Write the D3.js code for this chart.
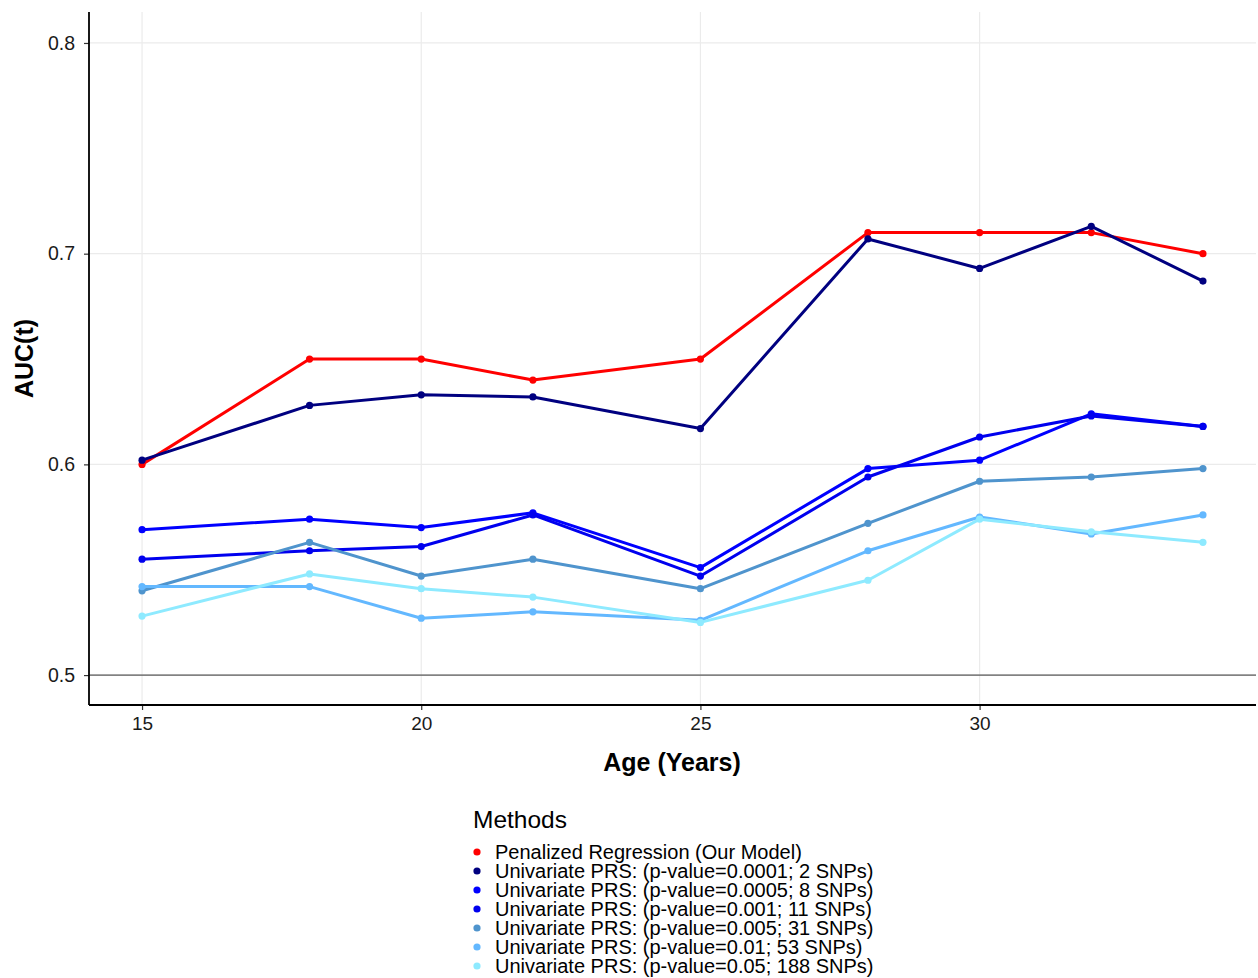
<!DOCTYPE html>
<html>
<head>
<meta charset="utf-8">
<script src="https://cdn.jsdelivr.net/npm/d3@7"></script>
<style>
  body { margin: 0; background: #fff; }
  svg text { font-family: "Liberation Sans", Arial, sans-serif; }
</style>
</head>
<body>
<div class="page-svg"></div>
<script>
// data
const ages = [15, 18, 20, 22, 25, 28, 30, 32, 34]
const methodLabels = [
  'Penalized Regression (Our Model)',
  'Univariate PRS: (p-value=0.0001; 2 SNPs)',
  'Univariate PRS: (p-value=0.0005; 8 SNPs)',
  'Univariate PRS: (p-value=0.001; 11 SNPs)',
  'Univariate PRS: (p-value=0.005; 31 SNPs)',
  'Univariate PRS: (p-value=0.01; 53 SNPs)',
  'Univariate PRS: (p-value=0.05; 188 SNPs)'
]
const methodColors = ['#ff0000', '#000080', '#0000ff', '#0000ee', '#4f94cd', '#63b8ff', '#8eeaff']
const aucPenalized = [0.600, 0.650, 0.650, 0.640, 0.650, 0.710, 0.710, 0.710, 0.700]
const aucP0001 = [0.602, 0.628, 0.633, 0.632, 0.617, 0.707, 0.693, 0.713, 0.687]
const aucP0005 = [0.569, 0.574, 0.570, 0.577, 0.551, 0.598, 0.602, 0.624, 0.618]
const aucP001 = [0.555, 0.559, 0.561, 0.576, 0.547, 0.594, 0.613, 0.623, 0.618]
const aucP005 = [0.540, 0.563, 0.547, 0.555, 0.541, 0.572, 0.592, 0.594, 0.598]
const aucP01 = [0.542, 0.542, 0.527, 0.530, 0.526, 0.559, 0.575, 0.567, 0.576]
const aucP05 = [0.528, 0.548, 0.541, 0.537, 0.525, 0.545, 0.574, 0.568, 0.563]
const xTicks = [15, 20, 25, 30]
const yTicks = [0.5, 0.6, 0.7, 0.8]

const seriesValues = [aucPenalized, aucP0001, aucP0005, aucP001, aucP005, aucP01, aucP05]
const series = methodLabels.map((label, i) => ({
  label,
  color: methodColors[i],
  points: ages.map((a, j) => ({ age: a, auc: seriesValues[i][j] }))
}))

const W = 1258, H = 978
const plot = { left: 89, right: 1256, top: 12, bottom: 705 }

const svg = d3.select('.page-svg').append('svg')
  .attr('width', W)
  .attr('height', H)

const x = d3.scaleLinear().domain([14.05, 34.95]).range([plot.left, plot.right])
const y = d3.scaleLinear().domain([0.4858, 0.8147]).range([plot.bottom, plot.top])

// grid
const grid = svg.append('g')
grid.selectAll('line.gx')
  .data(xTicks)
  .join('line')
  .attr('x1', d => x(d)).attr('x2', d => x(d))
  .attr('y1', plot.top).attr('y2', plot.bottom)
  .attr('stroke', '#ebebeb').attr('stroke-width', 1.2)
grid.selectAll('line.gy')
  .data(yTicks)
  .join('line')
  .attr('x1', plot.left).attr('x2', plot.right)
  .attr('y1', d => y(d)).attr('y2', d => y(d))
  .attr('stroke', '#ebebeb').attr('stroke-width', 1.2)

// reference line at 0.5
svg.append('line')
  .attr('x1', plot.left).attr('x2', plot.right)
  .attr('y1', y(0.5)).attr('y2', y(0.5))
  .attr('stroke', '#333').attr('stroke-width', 1)

// lines + points
const line = d3.line().x(d => x(d.age)).y(d => y(d.auc))
const g = svg.append('g')
series.forEach(s => {
  g.append('path')
    .datum(s.points)
    .attr('d', line)
    .attr('fill', 'none')
    .attr('stroke', s.color)
    .attr('stroke-width', 3)
    .attr('stroke-linejoin', 'round')
  g.selectAll(null)
    .data(s.points)
    .join('circle')
    .attr('cx', d => x(d.age))
    .attr('cy', d => y(d.auc))
    .attr('r', 3.6)
    .attr('fill', s.color)
})

// axes
const xAxis = d3.axisBottom(x).tickValues(xTicks).tickSize(5).tickPadding(7).tickFormat(d3.format('d'))
const yAxis = d3.axisLeft(y).tickValues(yTicks).tickSize(5).tickPadding(9).tickFormat(d3.format('.1f'))

const gx = svg.append('g').attr('transform', `translate(0,${plot.bottom})`).call(xAxis)
gx.select('.domain').remove()
gx.selectAll('.tick line').attr('stroke', '#333').attr('stroke-width', 1.2)
gx.selectAll('.tick text').attr('font-size', 19).attr('fill', '#1a1a1a')
  .style('font-family', '"Liberation Sans", Arial, sans-serif')

const gy = svg.append('g').attr('transform', `translate(${plot.left},0)`).call(yAxis)
gy.select('.domain').remove()
gy.selectAll('.tick line').attr('stroke', '#333').attr('stroke-width', 1.2)
gy.selectAll('.tick text').attr('font-size', 19.5).attr('fill', '#1a1a1a')
  .style('font-family', '"Liberation Sans", Arial, sans-serif')

svg.append('line')
  .attr('x1', plot.left).attr('x2', plot.right)
  .attr('y1', plot.bottom).attr('y2', plot.bottom)
  .attr('stroke', '#000').attr('stroke-width', 1.8)
svg.append('line')
  .attr('x1', plot.left).attr('x2', plot.left)
  .attr('y1', plot.top).attr('y2', plot.bottom)
  .attr('stroke', '#000').attr('stroke-width', 1.8)

// axis titles
svg.append('text')
  .attr('x', 672)
  .attr('y', 771)
  .attr('text-anchor', 'middle')
  .attr('font-size', 25)
  .attr('font-weight', 'bold')
  .text('Age (Years)')
svg.append('text')
  .attr('transform', `translate(33,${(plot.top + plot.bottom) / 2}) rotate(-90)`)
  .attr('text-anchor', 'middle')
  .attr('font-size', 25)
  .attr('font-weight', 'bold')
  .text('AUC(t)')

// legend
const legend = svg.append('g')
legend.append('text')
  .attr('x', 473).attr('y', 828)
  .attr('font-size', 24.5)
  .text('Methods')
const item = legend.selectAll('g.item')
  .data(series)
  .join('g')
  .attr('transform', (d, i) => `translate(0,${852 + i * 19})`)
item.append('circle')
  .attr('cx', 477).attr('cy', 0).attr('r', 3.6)
  .attr('fill', d => d.color)
item.append('text')
  .attr('x', 495).attr('y', 7)
  .attr('font-size', 20)
  .text(d => d.label)
</script>
</body>
</html>
